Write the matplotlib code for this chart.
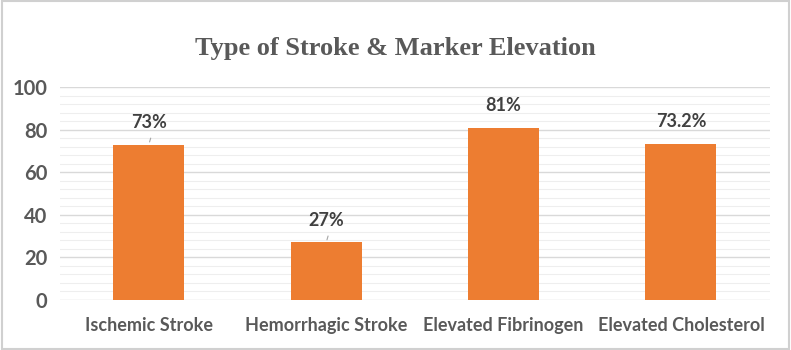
import matplotlib.pyplot as plt
from matplotlib.ticker import MultipleLocator
from matplotlib.patches import Rectangle

categories = ['Ischemic Stroke', 'Hemorrhagic Stroke', 'Elevated Fibrinogen', 'Elevated Cholesterol']
values = [73, 27, 81, 73.2]
labels = ['73%', '27%', '81%', '73.2%']
leader = [True, True, False, False]

orange = '#ED7D31'
gray = '#595959'

fig = plt.figure(figsize=(7.91, 3.5), dpi=100)
ax = fig.add_axes([0.076, 0.143, 0.897, 0.608])

x = range(len(categories))
ax.bar(x, values, width=0.4, color=orange, zorder=3)

ax.set_ylim(0, 100)
ax.set_xlim(-0.5, len(categories) - 0.5)
ax.yaxis.set_major_locator(MultipleLocator(20))
ax.yaxis.set_minor_locator(MultipleLocator(4))
ax.grid(axis='y', which='major', color='#D9D9D9', linewidth=1.0, zorder=0)
ax.grid(axis='y', which='minor', color='#EEEEEE', linewidth=0.8, zorder=0)
for s in ax.spines.values():
    s.set_visible(False)
ax.tick_params(axis='both', which='both', length=0)
ax.set_xticks(list(x))
ax.set_xticklabels(categories, fontsize=13, fontweight='bold', color=gray, family='Lato')
for t in ax.get_yticklabels():
    t.set_fontsize(14.5)
    t.set_fontweight('bold')
    t.set_color(gray)
    t.set_family('Lato')
ax.tick_params(axis='x', pad=12)
ax.tick_params(axis='y', pad=9)

# data labels
for i, (v, lab) in enumerate(zip(values, labels)):
    ax.annotate(lab, (i, v), xytext=(0, 16), textcoords='offset points',
                ha='center', va='center', fontsize=13, fontweight='bold',
                color='#404040', family='Lato')
    if leader[i]:
        ax.annotate('', xy=(i, v), xytext=(i + 0.015, v + 4.3),
                    arrowprops=dict(arrowstyle='-', color='#A6A6A6', lw=0.8))

fig.text(0.5, 0.862, 'Type of Stroke & Marker Elevation', ha='center', va='center',
         fontsize=19, fontweight='bold', color=gray, family='Liberation Serif')

fig.patches.append(Rectangle((0.002, 0.003), 0.995, 0.993, transform=fig.transFigure,
                             fill=False, edgecolor='#D0D0D0', linewidth=1.5))

fig.savefig('out.png', dpi=100)
